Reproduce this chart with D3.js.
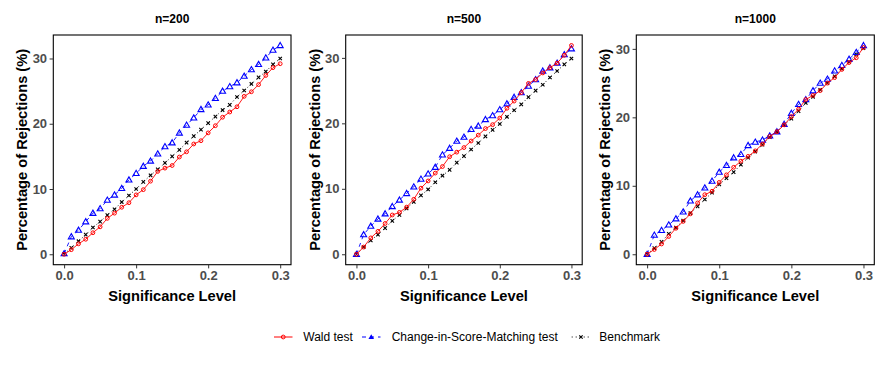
<!DOCTYPE html>
<html><head><meta charset="utf-8">
<script src="https://cdn.jsdelivr.net/npm/d3@7"></script>
<style>body{margin:0;background:#fff}svg{display:block}</style>
</head><body>
<svg id="c" width="889" height="370"></svg>
<script>
const alpha = d3.range(31).map(i => i / 100);
const panels = ["n=200", "n=500", "n=1000"];
const seriesNames = ["Wald test", "Change-in-Score-Matching test", "Benchmark"];
const xTicks = [0, 0.1, 0.2, 0.3];
const yTicks = [0, 10, 20, 30];

const wald200 = [0,0.7,1.6,2.3,3.3,4.2,5.5,6.3,7.2,7.9,9.1,9.9,11.2,12.7,13.2,13.6,14.9,15.7,16.9,17.4,18.6,19.7,21.0,21.8,22.6,24.2,24.9,26.0,27.4,28.6,29.2];
const score200 = [0.1,2.7,3.7,5.0,6.3,7.0,8.3,9.1,10.1,11.4,12.4,13.5,14.3,15.4,16.5,17.1,18.6,19.8,20.9,22.2,22.9,23.9,25.0,25.7,26.3,27.3,28.3,29.1,30.1,31.3,32.0];
const bench200 = [0,1.0,2.0,3.0,4.1,5.0,6.0,6.9,8.0,9.0,10.0,11.1,12.1,13.0,14.0,15.0,16.0,17.1,18.1,19.1,20.1,21.1,22.1,22.9,24.1,25.1,26.1,27.1,28.0,29.1,30.0];

const wald500 = [0,1.1,2.5,3.5,4.7,6.0,6.4,7.2,8.4,10.1,11.2,12.4,13.4,14.9,15.6,16.3,17.3,18.2,19.2,19.8,20.8,22.3,23.4,24.7,26.1,26.7,27.7,28.5,29.2,30.4,31.9];
const score500 = [0,3.0,4.3,5.4,6.2,7.3,8.3,9.3,10.3,11.5,12.3,13.3,15.2,16.2,17.3,17.9,19.1,19.6,20.6,21.2,22.1,23.0,24.0,24.7,25.7,26.7,28.0,28.5,29.2,30.5,31.4];
const bench500 = [0,1.1,2.1,3.0,4.0,5.1,6.0,7.0,8.0,9.0,9.9,11.0,12.0,12.9,14.0,15.0,16.0,17.0,18.0,19.0,19.9,21.0,22.0,22.9,24.0,25.0,25.9,27.0,28.0,29.0,29.9];

const wald1000 = [0,0.7,1.5,2.6,3.8,4.8,5.9,7.5,8.7,9.2,10.5,11.6,12.7,13.6,14.3,15.1,16.1,17.2,17.9,18.9,20.1,21.2,22.6,23.2,23.9,25.0,25.8,27.0,28.0,28.7,30.2];
const score1000 = [0,2.8,3.5,4.3,5.2,6.2,7.8,8.7,9.7,10.7,12.0,13.0,14.1,14.6,15.9,16.4,16.7,17.3,17.9,19.0,20.6,21.9,22.6,23.9,25.0,25.6,26.8,27.6,28.5,29.5,30.5];
const bench1000 = [0,0.9,1.8,3.0,3.9,4.9,6.0,7.0,8.0,9.0,10.2,11.1,12.0,13.1,14.1,15.0,16.0,17.1,17.9,18.9,19.8,20.9,22.1,23.0,24.0,25.0,26.0,27.1,28.1,29.2,30.1];

const data = [
  [wald200, score200, bench200],
  [wald500, score500, bench500],
  [wald1000, score1000, bench1000]
];

const colors = ["#FF0000", "#0000FF", "#000000"];
const dashes = [null, "4,4", "1,3"];
const svg = d3.select("#c");
const boxes = [[53.3, 291], [345.7, 582.2], [636.3, 874.3]];
const panelTop = 35, panelBottom = 264.7;
const FONT = "'Liberation Sans', Arial, sans-serif";

function symbol(g, k, col) {
  if (k === 0) {
    g.append("circle").attr("r", 1.9).attr("fill", "none").attr("stroke", col).attr("stroke-width", 1);
  } else if (k === 1) {
    g.append("path").attr("d", "M0,-3L3,2.2L-3,2.2Z").attr("fill", "none").attr("stroke", col).attr("stroke-width", 1.1);
  } else {
    g.append("path").attr("d", "M-1.7,-1.7L1.7,1.7M-1.7,1.7L1.7,-1.7").attr("fill", "none").attr("stroke", col).attr("stroke-width", 1.1);
  }
}

panels.forEach((title, p) => {
  const [x0, x1] = boxes[p];
  const xs = d3.scaleLinear().domain([0 - 0.015, 0.3 + 0.015]).range([x0, x1]);
  const allv = data[p].flat();
  const mx = d3.max(allv), mn = d3.min(allv);
  const pad = (mx - mn) * 0.05;
  const ys = d3.scaleLinear().domain([mn - pad, mx + pad]).range([panelBottom, panelTop]);
  const g = svg.append("g");

  const clipId = "clip" + p;
  svg.append("clipPath").attr("id", clipId).append("rect").attr("x", x0).attr("y", panelTop).attr("width", x1 - x0).attr("height", panelBottom - panelTop);
  const pg = g.append("g").attr("clip-path", `url(#${clipId})`);

  [2, 1, 0].forEach(k => {
    const vals = data[p][k];
    const line = d3.line().x((d, i) => xs(alpha[i])).y(d => ys(d));
    pg.append("path").datum(vals).attr("d", line)
      .attr("fill", "none").attr("stroke", colors[k]).attr("stroke-width", 0.9)
      .attr("stroke-dasharray", dashes[k]);
    vals.forEach((v, i) => {
      const sg = pg.append("g").attr("transform", `translate(${xs(alpha[i])},${ys(v)})`);
      symbol(sg, k, colors[k]);
    });
  });

  g.append("rect").attr("x", x0).attr("y", panelTop).attr("width", x1 - x0).attr("height", panelBottom - panelTop)
    .attr("fill", "none").attr("stroke", "#000").attr("stroke-width", 1.1);

  const xa = g.append("g").attr("transform", `translate(0,${panelBottom})`)
    .call(d3.axisBottom(xs).tickValues(xTicks).tickFormat(d3.format(".1f")).tickSizeOuter(0).tickSize(3.7).tickPadding(2.5));
  xa.select(".domain").remove();
  xa.selectAll("line").attr("stroke", "#333").attr("stroke-width", 1);
  xa.selectAll("text").attr("fill", "#4D4D4D").attr("font-size", "13px").attr("font-weight", "bold")
    .attr("font-family", FONT);

  const ya = g.append("g").attr("transform", `translate(${x0},0)`)
    .call(d3.axisLeft(ys).tickValues(yTicks).tickSizeOuter(0).tickSize(3.7).tickPadding(2.5));
  ya.select(".domain").remove();
  ya.selectAll("line").attr("stroke", "#333").attr("stroke-width", 1);
  ya.selectAll("text").attr("fill", "#4D4D4D").attr("font-size", "13px").attr("font-weight", "bold")
    .attr("font-family", FONT);

  const cx = (x0 + x1) / 2;
  g.append("text").attr("x", cx).attr("y", 23).attr("text-anchor", "middle")
    .attr("font-family", FONT).attr("font-weight", "bold").attr("font-size", "12px")
    .text(title);
  g.append("text").attr("x", cx).attr("y", 301).attr("text-anchor", "middle")
    .attr("font-family", FONT).attr("font-weight", "bold").attr("font-size", "14.67px")
    .text("Significance Level");
  const ylx = x0 - 26;
  g.append("text").attr("transform", `translate(${ylx},${(panelTop + panelBottom) / 2}) rotate(-90)`).attr("text-anchor", "middle")
    .attr("font-family", FONT).attr("font-weight", "bold").attr("font-size", "14.67px")
    .text("Percentage of Rejections (%)");
});

const legendY = 337;
const keyX = [274, 362, 571.7];
const textX = [303.3, 391.7, 599.3];
seriesNames.forEach((name, k) => {
  const lg = svg.append("g");
  lg.append("line").attr("x1", keyX[k]).attr("x2", keyX[k] + 18.5).attr("y1", legendY).attr("y2", legendY)
    .attr("stroke", colors[k]).attr("stroke-width", 1).attr("stroke-dasharray", dashes[k]);
  const sg = lg.append("g").attr("transform", `translate(${keyX[k] + 9.25},${legendY})`);
  if (k === 1) {
    sg.append("path").attr("d", "M0,-2.8L2.8,2L-2.8,2Z").attr("fill", colors[k]);
  } else {
    symbol(sg, k, colors[k]);
  }
  lg.append("text").attr("x", textX[k]).attr("y", legendY + 4.3)
    .attr("font-family", FONT).attr("font-size", "12px").attr("fill", "#000")
    .text(name);
});
</script>
</body></html>
